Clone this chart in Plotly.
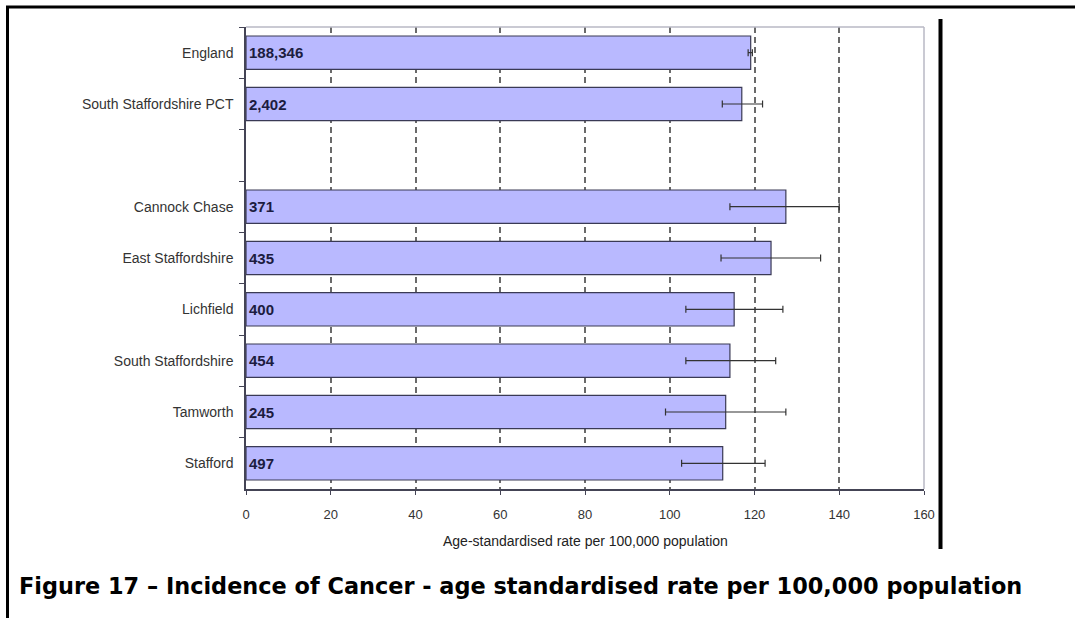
import plotly.graph_objects as go

# ---- data ----
categories = ["England", "South Staffordshire PCT", " ", "Cannock Chase", "East Staffordshire",
              "Lichfield", "South Staffordshire", "Tamworth", "Stafford"]
rates = [119.1, 117.0, None, 127.4, 123.9, 115.2, 114.2, 113.2, 112.5]
ci_lower = [118.5, 112.4, None, 114.2, 112.1, 103.8, 103.8, 99.0, 102.8]
ci_upper = [119.5, 121.9, None, 140.0, 135.6, 126.7, 125.0, 127.4, 122.5]
counts = ["188,346", "2,402", "", "371", "435", "400", "454", "245", "497"]
x_ticks = [0, 20, 40, 60, 80, 100, 120, 140, 160]

err_plus = [None if r is None else u - r for r, u in zip(rates, ci_upper)]
err_minus = [None if r is None else r - l for r, l in zip(rates, ci_lower)]

W, H = 1075, 618
L, R, T, B = 246, 924, 27, 489
FONT = "Liberation Sans, Arial, sans-serif"

def px(x):
    return (x - L) / (R - L)

def py(y):
    return (B - y) / (B - T)

fig = go.Figure()
fig.add_trace(go.Bar(
    y=categories, x=rates, orientation="h", width=0.65,
    marker=dict(color="#b9b9ff", line=dict(color="#3a3a55", width=1.2)),
    text=counts, textposition="inside", insidetextanchor="start",
    textfont=dict(family=FONT, size=15, color="#1c1c40", weight="bold"),
    cliponaxis=False,
    error_x=dict(type="data", array=err_plus, arrayminus=err_minus, symmetric=False,
                 color="#333333", thickness=1.2, width=3.5),
    hoverinfo="skip",
))

shapes = [
    # top and right plot frame (light)
    dict(type="line", xref="paper", yref="paper", x0=0, x1=1, y0=1, y1=1,
         line=dict(color="#b8b8c4", width=1.5), layer="above"),
    dict(type="line", xref="paper", yref="paper", x0=1, x1=1, y0=0, y1=1,
         line=dict(color="#b8b8c4", width=1.5), layer="above"),
    # page borders
    dict(type="line", xref="paper", yref="paper", x0=px(6), x1=px(1075), y0=py(7), y1=py(7),
         line=dict(color="black", width=3)),
    dict(type="line", xref="paper", yref="paper", x0=px(7.5), x1=px(7.5), y0=py(6), y1=py(618),
         line=dict(color="black", width=3)),
    dict(type="line", xref="paper", yref="paper", x0=px(940.5), x1=px(940.5), y0=py(19), y1=py(549),
         line=dict(color="black", width=4)),
]

annotations = [
    dict(text="Age-standardised rate per 100,000 population", xref="paper", yref="paper",
         x=px(585), y=py(541), xanchor="center", yanchor="middle", showarrow=False,
         font=dict(family=FONT, size=14, color="#222222")),
    dict(text="<b>Figure 17 \u2013 Incidence of Cancer - age standardised rate per 100,000 population</b>",
         xref="paper", yref="paper", x=px(17), y=py(586), xanchor="left", yanchor="middle",
         showarrow=False, font=dict(family="DejaVu Sans, sans-serif", size=22.4, color="#000000")),
]

fig.update_layout(
    width=W, height=H,
    margin=dict(l=L, r=W - R, t=T, b=H - B, pad=0),
    paper_bgcolor="white", plot_bgcolor="white",
    showlegend=False,
    shapes=shapes, annotations=annotations,
    xaxis=dict(range=[0, 160], tickvals=x_ticks, ticktext=[str(v) for v in x_ticks],
               showgrid=True, gridcolor="#6a6a6a", griddash="6px,4px", gridwidth=1.5,
               showline=True, linecolor="#444455", linewidth=1.5,
               ticks="outside", ticklen=4, tickcolor="#444455",
               ticklabelstandoff=9,
               tickfont=dict(family=FONT, size=13, color="#333333"),
               zeroline=False, fixedrange=True),
    yaxis=dict(type="category", categoryorder="array", categoryarray=categories,
               autorange="reversed", tickson="boundaries",
               showline=True, linecolor="#444455", linewidth=1.5,
               ticks="outside", ticklen=5, tickcolor="#444455",
               ticklabelstandoff=8,
               tickfont=dict(family=FONT, size=14, color="#333333"),
               showgrid=False, zeroline=False, fixedrange=True),
)

fig.write_html("out.html", config={"displayModeBar": False},
               post_script="document.body.style.margin='0';document.body.style.overflow='hidden';")
